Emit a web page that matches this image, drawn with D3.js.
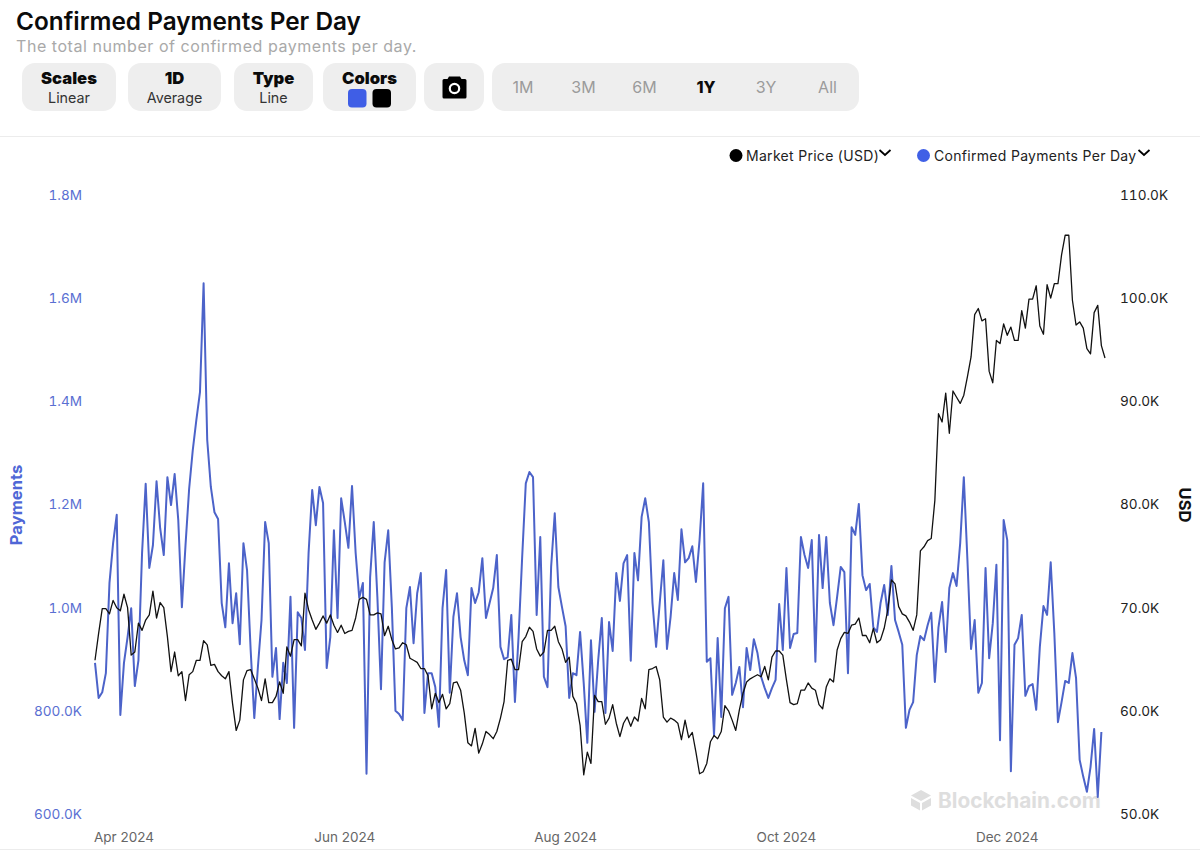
<!DOCTYPE html>
<html><head><meta charset="utf-8">
<script src="https://cdn.jsdelivr.net/npm/d3@7/dist/d3.min.js"></script>
<style>html,body{margin:0;padding:0;background:#fff}svg{display:block;font-family:Inter,"Noto Sans",sans-serif}</style>
</head><body><svg id="c" width="1200" height="863"></svg>
<script>
const startDate = "2024-03-24";
const xTickLabels = ["Apr 2024","Jun 2024","Aug 2024","Oct 2024","Dec 2024"];
const leftTicks = [600,800,1000,1200,1400,1600,1800];
const rightTicks = [50,60,70,80,90,100,110];
const payments = [893,825,836,873,1048,1125,1180,792,893,943,999,848,898,1106,1240,1077,1121,1245,1154,1102,1253,1199,1259,1170,1001,1121,1230,1305,1364,1418,1629,1325,1234,1185,1172,1009,962,1086,970,1028,929,1125,1073,918,786,885,976,1166,1125,866,922,784,893,854,1021,767,991,980,918,1106,1228,1160,1234,1203,883,943,1150,980,1212,1166,1116,1236,1106,1019,1048,678,1059,1166,1021,842,1088,1150,1001,800,794,782,999,1040,931,1028,1067,796,873,873,846,769,999,1073,835,982,1028,943,898,869,1038,1009,1030,1096,980,1009,1038,1102,924,900,904,986,817,943,1098,1241,1263,1253,986,1137,866,846,1079,1183,1040,1001,964,825,873,869,953,854,738,937,798,898,980,796,972,916,1067,1013,1086,1102,897,1106,1053,1176,1212,1166,1009,924,1009,1092,920,982,1067,1015,1152,1088,1096,1119,1050,1131,1241,895,902,753,941,788,999,1021,831,854,885,807,922,879,939,912,866,844,825,844,860,1007,918,1077,922,949,951,1137,1102,1077,1131,895,1141,1038,1137,1009,966,1021,1079,1069,873,1156,1141,1201,1063,1034,1046,962,953,1009,1044,986,1081,976,953,928,767,802,817,908,945,937,966,990,856,962,1011,914,1038,1067,1042,1125,1253,1092,920,976,835,854,1077,902,970,1083,743,1170,1131,683,928,941,986,829,848,852,802,924,1003,986,1088,951,778,817,858,854,912,864,705,672,643,691,765,633,759];
const marketPrice = [64.9,67.5,69.9,69.9,69.4,70.7,70.0,69.7,71.3,70.0,65.4,65.7,68.5,67.8,68.8,69.3,71.6,69.0,70.5,70.0,67.2,63.8,65.7,63.4,63.8,61.0,63.5,63.8,64.9,64.9,66.8,66.4,64.4,64.5,63.8,63.4,63.1,63.8,60.7,58.1,59.1,63.0,63.9,64.0,63.1,62.2,61.0,63.1,60.8,60.8,61.4,62.8,61.7,66.2,65.3,66.9,66.9,66.3,71.4,69.8,68.8,67.9,68.5,69.2,68.5,69.3,68.3,67.6,68.3,67.5,67.7,67.8,69.0,70.8,71.0,70.8,69.3,69.3,69.5,69.4,67.3,68.2,66.9,66.0,66.1,66.6,66.4,65.1,64.9,64.7,64.1,64.1,63.4,60.2,61.7,60.8,61.6,60.2,60.7,62.7,62.8,62.0,59.8,56.9,56.6,58.3,55.9,56.8,58.0,57.7,57.3,58.0,59.3,60.9,64.9,65.0,64.0,64.0,66.7,67.2,68.1,67.7,66.0,65.3,65.7,67.8,67.8,68.2,66.7,66.0,64.7,65.2,61.4,60.7,58.6,53.8,56.0,54.9,61.5,60.9,60.9,58.7,59.3,60.6,58.8,57.5,58.8,59.4,58.5,59.4,59.0,61.2,60.2,64.0,64.1,64.3,63.0,59.4,58.9,59.3,59.1,58.8,57.2,59.1,57.4,57.9,56.0,53.9,54.1,54.9,57.0,57.6,57.3,58.0,60.5,60.0,59.1,58.1,60.1,61.7,62.8,63.1,63.3,63.5,63.3,64.3,63.0,65.2,65.8,65.8,65.4,63.0,60.8,60.6,60.7,62.0,62.0,62.7,62.2,62.0,60.6,60.2,62.3,63.1,62.8,65.9,67.0,67.6,67.5,68.3,68.4,69.0,67.3,67.3,66.6,68.0,66.6,66.9,68.0,69.8,72.7,72.3,70.1,69.4,69.2,68.6,67.8,69.3,75.5,75.9,76.5,76.7,80.4,88.8,88.0,90.8,86.9,91.0,90.4,89.8,90.6,92.4,94.3,98.4,99.0,97.8,98.0,92.9,91.8,95.9,95.6,97.5,96.4,97.2,95.9,95.9,98.8,97.1,99.9,99.9,101.2,97.3,96.5,101.3,100.0,101.4,101.4,104.2,106.1,106.1,99.8,97.4,97.7,97.1,95.1,94.6,98.6,99.3,95.4,94.2];
const legendNames = ["Market Price (USD)","Confirmed Payments Per Day"];
const buttonTitles = ["Scales","1D","Type","Colors"];
const buttonSubs = ["Linear","Average","Line",""];
const rangeLabels = ["1M","3M","6M","1Y","3Y","All"];

const svg = d3.select("#c");
const BLUE="#4c63c9", BTN="#eeeeee";
const parse=d3.timeParse("%Y-%m-%d");
const t0=parse(startDate);
const dayAt=i=>d3.timeDay.offset(t0,i);
const x=d3.scaleTime().domain([t0,dayAt(279)]).range([95,1105]);
const yL=d3.scaleLinear().domain([600,1800]).range([814,195]);
const yR=d3.scaleLinear().domain([50,110]).range([814,195]);

// header
svg.append("text").attr("x",16).attr("y",30).attr("font-size",24.35).attr("font-weight",600).attr("fill","#0b0b0b").text("Confirmed Payments Per Day");
svg.append("text").attr("x",16).attr("y",52).attr("font-size",16).attr("letter-spacing",".55").attr("fill","#a9a9a9").text("The total number of confirmed payments per day.");

// buttons
const btnBox=[[22,94],[128,93],[234,79],[323,93]];
buttonTitles.forEach((t,i)=>{
  const [bx,bw]=btnBox[i];
  svg.append("rect").attr("x",bx).attr("y",63).attr("width",bw).attr("height",48).attr("rx",13).attr("fill",BTN);
  svg.append("text").attr("x",bx+bw/2).attr("y",84).attr("text-anchor","middle").attr("font-size",16.6).attr("font-weight",900).attr("fill","#0b0b0b").text(t);
  if(buttonSubs[i]) svg.append("text").attr("x",bx+bw/2).attr("y",103).attr("text-anchor","middle").attr("font-size",14.3).attr("fill","#333").text(buttonSubs[i]);
});
svg.append("rect").attr("x",348).attr("y",89).attr("width",18.5).attr("height",18.5).attr("rx",4).attr("fill","#3f5ee6");
svg.append("rect").attr("x",372.5).attr("y",89).attr("width",18.5).attr("height",18.5).attr("rx",4).attr("fill","#000");
// camera
svg.append("rect").attr("x",424).attr("y",63).attr("width",60).attr("height",48).attr("rx",13).attr("fill",BTN);
svg.append("path").attr("d","M442.5 80.5a1.5 1.5 0 0 1 1.5-1.5h3.5l1.5-2.5h11l1.5 2.5h3.5a1.5 1.5 0 0 1 1.5 1.5V97a1.5 1.5 0 0 1-1.5 1.5h-21a1.5 1.5 0 0 1-1.5-1.5z").attr("fill","#000");
svg.append("circle").attr("cx",454.5).attr("cy",88.5).attr("r",4.7).attr("fill","none").attr("stroke","#fff").attr("stroke-width",2.2);
// range
svg.append("rect").attr("x",492).attr("y",63).attr("width",367).attr("height",48).attr("rx",13).attr("fill",BTN);
const rangeX=[523,583.5,644.5,706,766,827.5];
rangeLabels.forEach((t,i)=>{
  const on=t==="1Y";
  svg.append("text").attr("x",rangeX[i]).attr("y",93).attr("text-anchor","middle").attr("font-size",16).attr("font-weight",on?800:400).attr("fill",on?"#0b0b0b":"#9b9b9b").text(t);
});
// separators
svg.append("line").attr("x1",0).attr("x2",1200).attr("y1",136.5).attr("y2",136.5).attr("stroke","#ececec");
svg.append("line").attr("x1",0).attr("x2",1200).attr("y1",849.5).attr("y2",849.5).attr("stroke","#ececec");

// legend
const legendSpec=[{cx:736,tx:746,cv:885,col:"#000"},{cx:923.5,tx:934,cv:1144,col:"#4060e6"}];
legendNames.forEach((t,i)=>{
  const s=legendSpec[i];
  svg.append("circle").attr("cx",s.cx).attr("cy",155.5).attr("r",6.5).attr("fill",s.col);
  svg.append("text").attr("x",s.tx).attr("y",160.5).attr("font-size",14).attr("letter-spacing",".3").attr("fill","#222").text(t);
  svg.append("path").attr("d",`M${s.cv-5.5} 150l5.5 5 5.5-5`).attr("fill","none").attr("stroke","#000").attr("stroke-width",1.8);
});

// watermark
const wm=svg.append("g").attr("fill","#dedede");
wm.append("path").attr("d","M921 790l10 5.5-10 5.5-10-5.5z");
wm.append("path").attr("d","M911 798l9 5v7.5l-9-5z");
wm.append("path").attr("d","M931 798l-9 5v7.5l9-5z");
wm.append("text").attr("x",938).attr("y",808).attr("font-size",20.8).attr("font-weight",700).text("Blockchain.com");

// axes
const fmtL=v=>v>=1000?(v/1000).toFixed(1)+"M":v.toFixed(1)+"K";
const axL=svg.append("g").attr("transform","translate(82,0)").call(d3.axisLeft(yL).tickValues(leftTicks).tickSize(0).tickPadding(0).tickFormat(fmtL));
axL.select(".domain").remove();
axL.selectAll("text").attr("font-family",'Inter').attr("font-size",13.6).attr("fill","#5a6fd2").style("font-variant-numeric","tabular-nums");
const axR=svg.append("g").attr("transform","translate(1120,0)").call(d3.axisRight(yR).tickValues(rightTicks).tickSize(0).tickPadding(0).tickFormat(v=>v.toFixed(1)+"K"));
axR.select(".domain").remove();
axR.selectAll("text").attr("font-family",'Inter').attr("font-size",13.6).attr("fill","#222").style("font-variant-numeric","tabular-nums");
const parseTick=d3.timeParse("%b %Y");
const axB=svg.append("g").attr("transform","translate(-0.5,832)").call(d3.axisBottom(x).tickValues(xTickLabels.map(parseTick)).tickSize(0).tickPadding(0).tickFormat(d3.timeFormat("%b %Y")));
axB.select(".domain").remove();
axB.selectAll("text").attr("font-family",'Inter').attr("font-size",13.5).attr("fill","#666");

svg.append("text").attr("transform","translate(22,505) rotate(-90)").attr("text-anchor","middle").attr("font-size",16.6).attr("font-weight",700).attr("fill","#4f67d6").text("Payments");
svg.append("text").attr("transform","translate(1178.5,505) rotate(90)").attr("text-anchor","middle").attr("font-size",16.6).attr("font-weight",700).attr("fill","#111").text("USD");

// lines
const lineL=d3.line().x((d,i)=>x(dayAt(i))).y(d=>yL(d));
const lineR=d3.line().x((d,i)=>x(dayAt(i))).y(d=>yR(d));
svg.append("path").datum(payments).attr("d",lineL).attr("fill","none").attr("stroke",BLUE).attr("stroke-width",2).attr("stroke-linejoin","round");
svg.append("path").datum(marketPrice).attr("d",lineR).attr("fill","none").attr("stroke","#111").attr("stroke-width",1.3).attr("stroke-linejoin","round");
</script></body></html>
